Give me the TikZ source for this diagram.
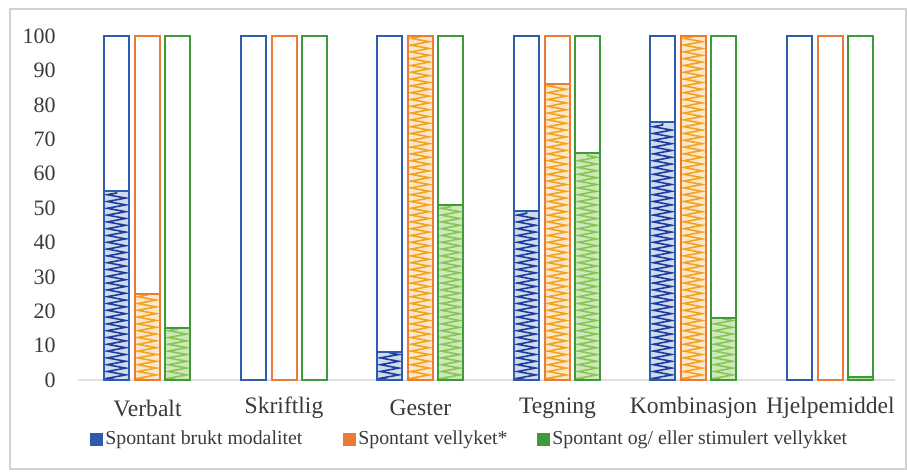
\documentclass[tikz,border=0pt]{standalone}
\usepackage{fontspec}
\setmainfont{Liberation Serif}
\usetikzlibrary{decorations.pathmorphing}

\definecolor{brukt}{HTML}{2F5BAE}
\definecolor{bruktskrible}{HTML}{1E3E9E}
\definecolor{vellyket}{HTML}{EA7A35}
\definecolor{vellyketskrible}{HTML}{F2A324}
\definecolor{stimulert}{HTML}{3F9A3A}
\definecolor{stimulertskrible}{HTML}{86C655}
\definecolor{tekstgraa}{HTML}{3A3A3A}

\begin{document}
\begin{tikzpicture}[x=0.5pt, y=0.5pt, every node/.style={text=tekstgraa},
  akse/.style={font=\fontsize{11}{13}\selectfont, anchor=east, inner sep=1pt},
  kategori/.style={font=\fontsize{11.8}{14}\selectfont, inner sep=1pt},
  forklaring/.style={font=\fontsize{9.9}{12}\selectfont, anchor=west, inner sep=1pt},
  bruktbar/.style={draw=brukt, line width=1pt},
  vellyketbar/.style={draw=vellyket, line width=1pt},
  stimulertbar/.style={draw=stimulert, line width=1pt},
  skrible/.style={decorate, decoration={zigzag, amplitude=4.6pt, segment length=3.4pt}, line width=0.8pt}]
  \useasboundingbox (0,0) rectangle (907,476);
  \draw[black!18, line width=0.6pt] (10,7) rectangle (906,467);
  % y-akse
  \node[akse] (t0) at (58,96.0) {0};
  \node[akse] (t10) at (58,130.4) {10};
  \node[akse] (t20) at (58,164.8) {20};
  \node[akse] (t30) at (58,199.2) {30};
  \node[akse] (t40) at (58,233.6) {40};
  \node[akse] (t50) at (58,268.0) {50};
  \node[akse] (t60) at (58,302.4) {60};
  \node[akse] (t70) at (58,336.8) {70};
  \node[akse] (t80) at (58,371.2) {80};
  \node[akse] (t90) at (58,405.6) {90};
  \node[akse] (t100) at (58,440.0) {100};
  \begin{scope}[yshift=48pt, y=1.72pt]
    \draw[black!12, line width=0.6pt] (78,0) -- (895,0);
    % Verbalt
    \fill[brukt!22] (104,0) rectangle (129,55);
    \draw[bruktskrible, skrible] (116.5,0) -- (116.5,55);
    \draw[bruktbar] (104,0) rectangle (129,55);
    \draw[bruktbar] (104,0) rectangle (129,100);
    \fill[vellyketskrible!25] (134.5,0) rectangle (159.5,25);
    \draw[vellyketskrible, skrible] (147,0) -- (147,25);
    \draw[vellyketbar] (134.5,0) rectangle (159.5,25);
    \draw[vellyketbar] (134.5,0) rectangle (159.5,100);
    \fill[stimulertskrible!40] (165,0) rectangle (190,15);
    \draw[stimulertskrible, skrible] (177.5,0) -- (177.5,15);
    \draw[stimulertbar] (165,0) rectangle (190,15);
    \draw[stimulertbar] (165,0) rectangle (190,100);
    % Skriftlig
    \draw[bruktbar] (241,0) rectangle (266,100);
    \draw[vellyketbar] (271.5,0) rectangle (296.5,100);
    \draw[stimulertbar] (302,0) rectangle (327,100);
    % Gester
    \fill[brukt!22] (377,0) rectangle (402,8);
    \draw[bruktskrible, skrible] (389.5,0) -- (389.5,8);
    \draw[bruktbar] (377,0) rectangle (402,8);
    \draw[bruktbar] (377,0) rectangle (402,100);
    \fill[vellyketskrible!25] (407.5,0) rectangle (432.5,100);
    \draw[vellyketskrible, skrible] (420,0) -- (420,100);
    \draw[vellyketbar] (407.5,0) rectangle (432.5,100);
    \fill[stimulertskrible!40] (438,0) rectangle (463,51);
    \draw[stimulertskrible, skrible] (450.5,0) -- (450.5,51);
    \draw[stimulertbar] (438,0) rectangle (463,51);
    \draw[stimulertbar] (438,0) rectangle (463,100);
    % Tegning
    \fill[brukt!22] (514,0) rectangle (539,49);
    \draw[bruktskrible, skrible] (526.5,0) -- (526.5,49);
    \draw[bruktbar] (514,0) rectangle (539,49);
    \draw[bruktbar] (514,0) rectangle (539,100);
    \fill[vellyketskrible!25] (544.5,0) rectangle (569.5,86);
    \draw[vellyketskrible, skrible] (557,0) -- (557,86);
    \draw[vellyketbar] (544.5,0) rectangle (569.5,86);
    \draw[vellyketbar] (544.5,0) rectangle (569.5,100);
    \fill[stimulertskrible!40] (575,0) rectangle (600,66);
    \draw[stimulertskrible, skrible] (587.5,0) -- (587.5,66);
    \draw[stimulertbar] (575,0) rectangle (600,66);
    \draw[stimulertbar] (575,0) rectangle (600,100);
    % Kombinasjon
    \fill[brukt!22] (650,0) rectangle (675,75);
    \draw[bruktskrible, skrible] (662.5,0) -- (662.5,75);
    \draw[bruktbar] (650,0) rectangle (675,75);
    \draw[bruktbar] (650,0) rectangle (675,100);
    \fill[vellyketskrible!25] (680.5,0) rectangle (705.5,100);
    \draw[vellyketskrible, skrible] (693,0) -- (693,100);
    \draw[vellyketbar] (680.5,0) rectangle (705.5,100);
    \fill[stimulertskrible!40] (711,0) rectangle (736,18);
    \draw[stimulertskrible, skrible] (723.5,0) -- (723.5,18);
    \draw[stimulertbar] (711,0) rectangle (736,18);
    \draw[stimulertbar] (711,0) rectangle (736,100);
    % Hjelpemiddel
    \draw[bruktbar] (787,0) rectangle (812,100);
    \draw[vellyketbar] (817.5,0) rectangle (842.5,100);
    \fill[stimulertskrible!60] (848,0) rectangle (873,1);
    \draw[stimulertbar] (848,0) rectangle (873,1);
    \draw[stimulertbar] (848,0) rectangle (873,100);
  \end{scope}
  % kategorier
  \node[kategori] (verbalt) at (147.5,68) {Verbalt};
  \node[kategori] (skriftlig) at (284,68) {Skriftlig};
  \node[kategori] (gester) at (420.5,68) {Gester};
  \node[kategori] (tegning) at (557.5,68) {Tegning};
  \node[kategori] (kombinasjon) at (693.5,68) {Kombinasjon};
  \node[kategori] (hjelpemiddel) at (830.5,68) {Hjelpemiddel};
  % forklaring
  \fill[brukt] (90,29.5) rectangle (103,42.5);
  \node[forklaring] (lbrukt) at (103,36) {Spontant brukt modalitet};
  \fill[vellyket] (343,29.5) rectangle (356,42.5);
  \node[forklaring] (lvellyket) at (356,36) {Spontant vellyket*};
  \fill[stimulert] (537,29.5) rectangle (550,42.5);
  \node[forklaring] (lstimulert) at (550,36) {Spontant og/ eller stimulert vellykket};
\end{tikzpicture}
\end{document}
